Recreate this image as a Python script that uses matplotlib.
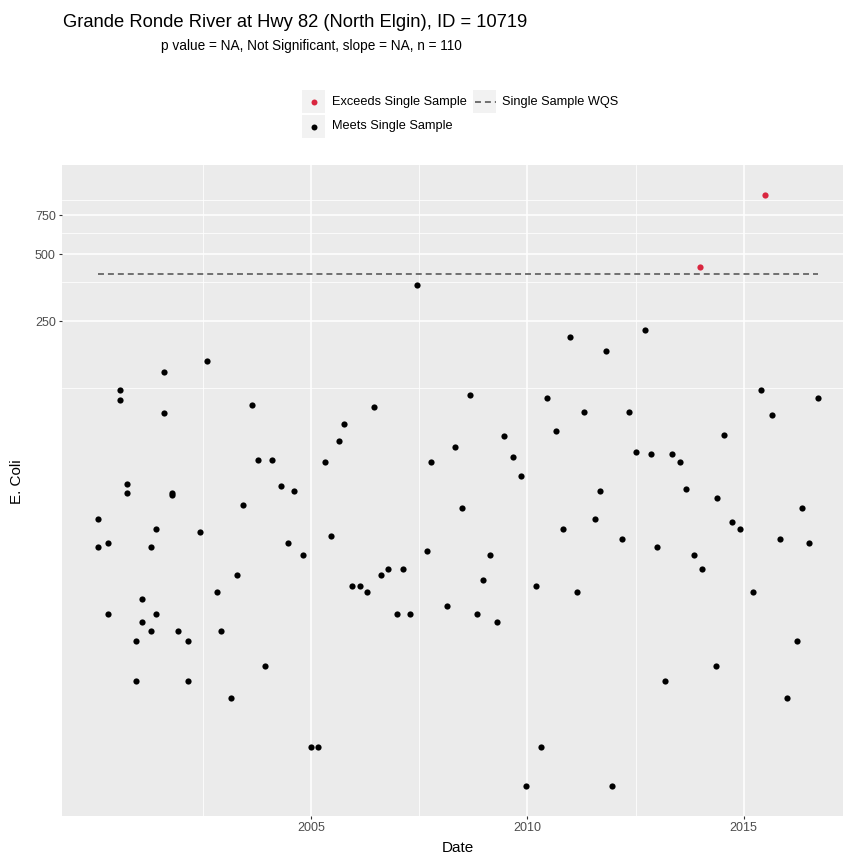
import numpy as np
import matplotlib
matplotlib.use("Agg")
import matplotlib.pyplot as plt
from matplotlib.ticker import FixedLocator, NullFormatter, FixedFormatter
from matplotlib.patches import Rectangle
from matplotlib.lines import Line2D

plt.rcParams['font.family'] = ['Liberation Sans', 'DejaVu Sans']

title = "Grande Ronde River at Hwy 82 (North Elgin), ID = 10719"
subtitle = "p value = NA, Not Significant, slope = NA, n = 110"
x_title = "Date"
y_title = "E. Coli"
legend_labels = ["Exceeds Single Sample", "Single Sample WQS", "Meets Single Sample"]

# sample dates (decimal years) and E. coli values
dates = [2000.07, 2000.07, 2000.29, 2000.29, 2000.58, 2000.58, 2000.74, 2000.74,
         2000.95, 2000.95, 2001.09, 2001.09, 2001.29, 2001.29, 2001.41, 2001.41,
         2001.60, 2001.60, 2001.78, 2001.78, 2001.92, 2002.16, 2002.16, 2002.43,
         2002.59, 2002.83, 2002.91, 2003.15, 2003.29, 2003.43, 2003.64, 2003.77,
         2003.94, 2004.10, 2004.31, 2004.46, 2004.61, 2004.81, 2005.00, 2005.16,
         2005.32, 2005.46, 2005.65, 2005.76, 2005.95, 2006.13, 2006.29, 2006.46,
         2006.62, 2006.78, 2006.99, 2007.13, 2007.29, 2007.45, 2007.68, 2007.77,
         2008.14, 2008.33, 2008.49, 2008.68, 2008.84, 2008.98, 2009.14, 2009.30,
         2009.46, 2009.67, 2009.86, 2009.97, 2010.20, 2010.32, 2010.46, 2010.66,
         2010.83, 2010.99, 2011.15, 2011.31, 2011.57, 2011.68, 2011.82, 2011.96,
         2012.19, 2012.35, 2012.51, 2012.72, 2012.86, 2013.00, 2013.18, 2013.35,
         2013.53, 2013.67, 2013.86, 2013.99, 2014.04, 2014.36, 2014.39, 2014.55,
         2014.73, 2014.92, 2015.22, 2015.40, 2015.50, 2015.66, 2015.84, 2016.01,
         2016.24, 2016.35, 2016.51, 2016.72]
ecoli = [32, 24, 25, 12, 122, 110, 46, 42,
         9, 6, 14, 11, 24, 10, 29, 12,
         147, 96, 42, 41, 10, 9, 6, 28,
         166, 15, 10, 5, 18, 37, 105, 59,
         7, 59, 45, 25, 43, 22, 3, 3,
         58, 27, 72, 86, 16, 16, 15, 102,
         18, 19, 12, 19, 12, 365, 23, 58,
         13, 68, 36, 116, 12, 17, 22, 11,
         76, 61, 50, 2, 16, 3, 112, 80,
         29, 211, 15, 97, 32, 43, 184, 2,
         26, 97, 64, 229, 63, 24, 6, 63,
         58, 44, 22, 436, 19, 7, 40, 77,
         31, 29, 15, 122, 929, 94, 26, 5,
         9, 36, 25, 112]
wqs = 406

y_breaks = [250, 500, 750]
y_minor = [125, 375, 625, 875]
x_breaks = [2005, 2010, 2015]
x_labels = ["2005", "2010", "2015"]
x_minor = [2002.5, 2007.5, 2012.5, 2017.5]

W, H = 843, 857
fig = plt.figure(figsize=(W / 100, H / 100), dpi=100)


def fx(x):
    return x / W


def fy(y):
    return 1 - y / H


ax = fig.add_axes([fx(62), fy(816), (854 - 62) / W, (816 - 165) / H])
ax.set_facecolor('#EBEBEB')
for s in ax.spines.values():
    s.set_visible(False)
ax.set_yscale('log')

d = np.array(dates)
v = np.array(ecoli, dtype=float)
x0, x1 = d.min(), d.max()
ex = (x1 - x0) * 0.05
ax.set_xlim(x0 - ex, x1 + ex)
l0, l1 = np.log10(v.min()), np.log10(v.max())
ey = (l1 - l0) * 0.05
ax.set_ylim(10 ** (l0 - ey), 10 ** (l1 + ey))

ax.yaxis.set_major_locator(FixedLocator(y_breaks))
ax.yaxis.set_major_formatter(FixedFormatter([str(b) for b in y_breaks]))
ax.yaxis.set_minor_locator(FixedLocator(y_minor))
ax.yaxis.set_minor_formatter(NullFormatter())
ax.xaxis.set_major_locator(FixedLocator(x_breaks))
ax.xaxis.set_major_formatter(FixedFormatter(x_labels))
ax.xaxis.set_minor_locator(FixedLocator(x_minor))
ax.xaxis.set_minor_formatter(NullFormatter())

ax.grid(which='major', color='white', lw=1.1)
ax.grid(which='minor', color='white', lw=0.55)
ax.set_axisbelow(True)
ax.tick_params(which='major', length=2.3, width=0.8, color='#333333',
               labelsize=9.0, labelcolor='#4D4D4D', pad=2.2)
ax.tick_params(which='minor', length=0)

exceed = v > wqs
ax.plot([x0, x1], [wqs, wqs], ls=(0, (3.3, 2.2)), color='#666666', lw=1.3, zorder=2)
ax.scatter(d[~exceed], v[~exceed], s=20, color='black', lw=0, zorder=3)
ax.scatter(d[exceed], v[exceed], s=20, color='#D9263F', lw=0, zorder=3)

# titles
fig.text(fx(63), fy(27), title, fontsize=13.2, color='black', va='baseline', ha='left')
fig.text(fx(161), fy(50), subtitle, fontsize=9.8, color='black', va='baseline', ha='left')
fig.text(fx(458), fy(848), x_title, fontsize=11, ha='center', va='center')
fig.text(fx(17), fy(482), y_title, fontsize=11, ha='center', va='center', rotation=90)

# legend (manual, ggplot-like keys)
key_w, key_h = 23, 23
keys = [(302, 90), (473, 90), (302, 115)]
for (kx, ky) in keys:
    fig.add_artist(Rectangle((fx(kx), fy(ky + key_h)), key_w / W, key_h / H,
                             transform=fig.transFigure, facecolor='#F2F2F2',
                             edgecolor='none'))
fig.add_artist(Line2D([fx(314)], [fy(101.5)], marker='o', ms=4.3, color='#D9263F',
                      mew=0, transform=fig.transFigure))
fig.add_artist(Line2D([fx(314)], [fy(126.5)], marker='o', ms=4.3, color='black',
                      mew=0, transform=fig.transFigure))
fig.add_artist(Line2D([fx(474.5), fx(495.5)], [fy(101.5), fy(101.5)], ls=(0, (3.3, 2.2)),
                      color='#666666', lw=1.3, transform=fig.transFigure))
fig.text(fx(331.5), fy(101.5), legend_labels[0], fontsize=9.2, va='center', ha='left')
fig.text(fx(501.5), fy(101.5), legend_labels[1], fontsize=9.2, va='center', ha='left')
fig.text(fx(331.5), fy(126.5), legend_labels[2], fontsize=9.2, va='center', ha='left')

fig.savefig("out.png", dpi=100)
